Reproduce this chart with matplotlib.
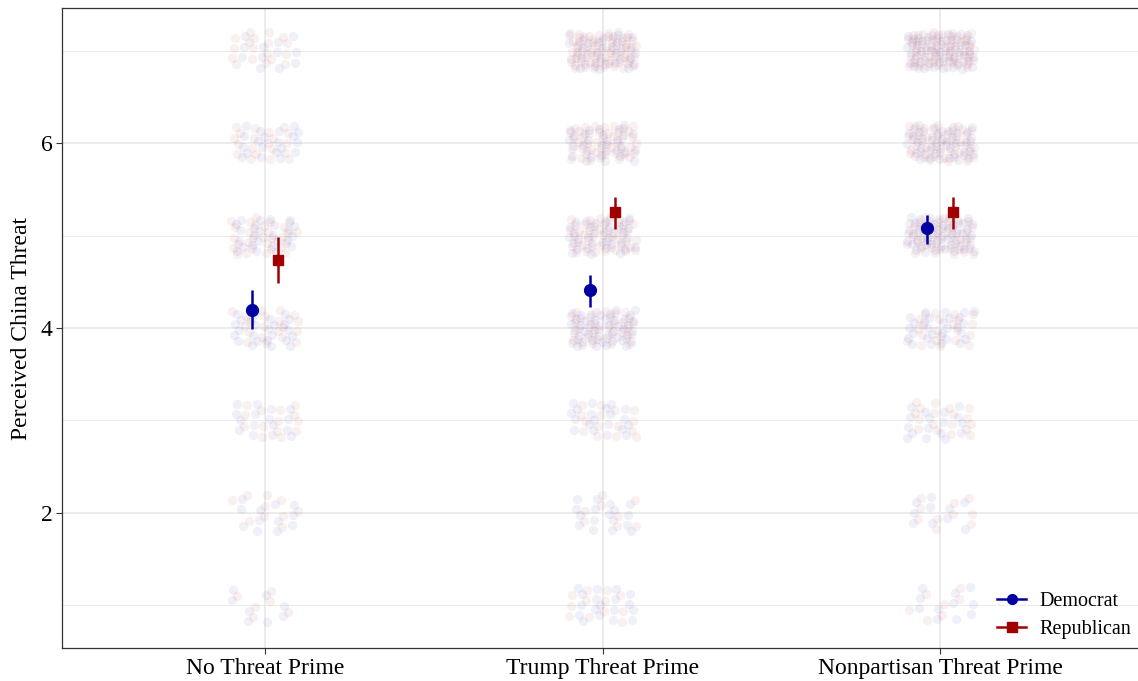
import numpy as np
import matplotlib
matplotlib.use("Agg")
import matplotlib.pyplot as plt
from matplotlib.lines import Line2D

plt.rcParams["font.family"] = ["Liberation Serif", "DejaVu Serif"]

# Experimental conditions and response scale
conditions = ["No Threat Prime", "Trump Threat Prime", "Nonpartisan Threat Prime"]
levels = [1, 2, 3, 4, 5, 6, 7]

# Number of respondents at each response level (rows: condition, cols: level 1..7)
dem_counts = [
    [8, 12, 16, 25, 25, 20, 12],
    [18, 17, 20, 45, 35, 30, 35],
    [11, 10, 17, 28, 50, 40, 50],
]
rep_counts = [
    [6, 10, 14, 20, 30, 20, 18],
    [12, 8, 15, 35, 45, 45, 65],
    [7, 10, 18, 22, 45, 50, 65],
]

# Group means with 95% confidence intervals
dem_mean = [4.20, 4.41, 5.08]
dem_low = [3.99, 4.23, 4.91]
dem_high = [4.41, 4.57, 5.22]
rep_mean = [4.74, 5.25, 5.25]
rep_low = [4.49, 5.07, 5.07]
rep_high = [4.98, 5.42, 5.42]

DEM_COLOR = "#0000a0"
REP_COLOR = "#a00000"

fig = plt.figure(figsize=(11.38, 6.81), dpi=100)
ax = fig.add_axes([62 / 1138, 33 / 681, (1143 - 62) / 1138, (648 - 8) / 681])

# Quasi-random (R2 sequence) jitter offsets, deterministic
g = 1.32471795724474602596
a1, a2 = 1.0 / g, 1.0 / (g * g)


def jitter(n, start):
    k = np.arange(start, start + n)
    u = (0.5 + k * a1) % 1.0
    v = (0.5 + k * a2) % 1.0
    return u, v


x_pos = np.arange(1, len(conditions) + 1)
start = 1
for ci, xc in enumerate(x_pos):
    for li, lv in enumerate(levels):
        for counts, color in ((dem_counts, DEM_COLOR), (rep_counts, REP_COLOR)):
            n = counts[ci][li]
            u, v = jitter(n, start)
            start += n + 7
            ax.scatter(xc + (u - 0.5) * 0.2, lv + (v - 0.5) * 0.4, s=45,
                       color=color, alpha=0.06, linewidths=0, zorder=2)

dodge = 0.038
ax.vlines(x_pos - dodge, dem_low, dem_high, color=DEM_COLOR, lw=1.8, zorder=4)
ax.plot(x_pos - dodge, dem_mean, "o", color=DEM_COLOR, ms=8.5, zorder=5)
ax.vlines(x_pos + dodge, rep_low, rep_high, color=REP_COLOR, lw=1.8, zorder=4)
ax.plot(x_pos + dodge, rep_mean, "s", color=REP_COLOR, ms=7.5, zorder=5)

ax.set_xlim(0.4, 3.6)
ax.set_ylim(0.54, 7.46)
ax.set_xticks(x_pos)
ax.set_xticklabels(conditions)
ax.set_yticks([2, 4, 6])
ax.set_yticks([1, 3, 5, 7], minor=True)
ax.grid(True, which="major", color="#ebebeb", lw=1.3, zorder=0)
ax.grid(True, which="minor", axis="y", color="#ebebeb", lw=0.7, zorder=0)
ax.set_axisbelow(True)
ax.tick_params(axis="both", which="major", length=4, width=0.8, color="#333333",
               labelsize=17, labelcolor="black", pad=3)
ax.tick_params(axis="y", which="minor", length=0)
for sp in ax.spines.values():
    sp.set_color("#333333")
    sp.set_linewidth(0.9)
ax.set_ylabel("Perceived China Threat", fontsize=17, labelpad=6)

handles = [
    Line2D([0], [0], color=DEM_COLOR, marker="o", ms=7, lw=1.8, label="Democrat"),
    Line2D([0], [0], color=REP_COLOR, marker="s", ms=6.5, lw=1.8, label="Republican"),
]
ax.legend(handles=handles, loc="lower right", bbox_to_anchor=(1.008, -0.018), frameon=False,
          fontsize=14.5, handlelength=1.4, handletextpad=0.7, borderaxespad=0.6,
          labelspacing=0.45)

fig.savefig("out.png", dpi=100)
